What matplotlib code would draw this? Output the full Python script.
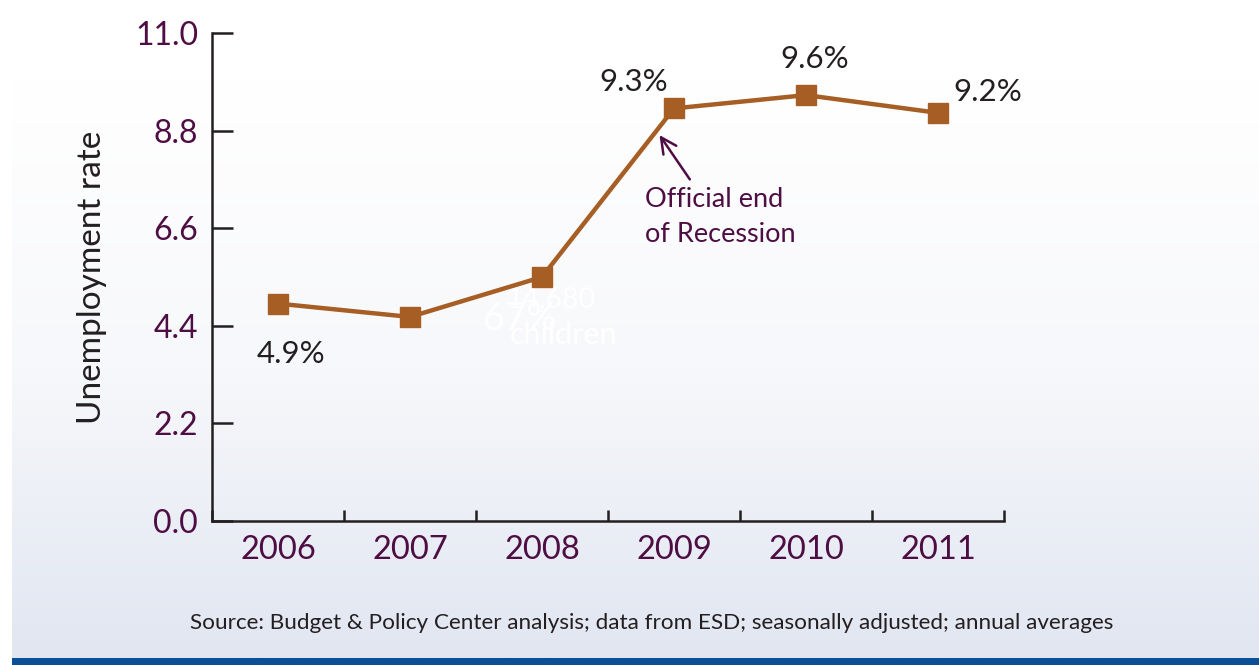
import matplotlib.pyplot as plt
import matplotlib.colors as mcolors
import numpy as np

plt.rcParams['font.family'] = ['Lato', 'DejaVu Sans']

# data
years = ['2006', '2007', '2008', '2009', '2010', '2011']
rates = [4.9, 4.6, 5.5, 9.3, 9.6, 9.2]
yticks = [0.0, 2.2, 4.4, 6.6, 8.8, 11.0]
# labelled points: index -> (text, offset in points)
point_labels = {0: ('4.9%', (9, -36)), 3: ('9.3%', (-29, 19)),
                4: ('9.6%', (6, 26)), 5: ('9.2%', (36, 15))}

LINE = '#a65e24'
PURPLE = '#4e0d43'
DARK = '#231f20'

W, H = 1259, 665
fig = plt.figure(figsize=(W / 100, H / 100), dpi=100)

# background: white -> pale blue-grey gradient, blue strip at bottom
bg = fig.add_axes([12 / W, 7 / H, 1 - 12 / W, 1 - 7 / H], zorder=-10)
grad = np.linspace(0, 1, 300)
grad = np.clip((grad - 0.12) / 0.88, 0, 1)[:, None]
cmap = mcolors.LinearSegmentedColormap.from_list('bg', ['#ffffff', '#f7f8fb', '#e1e6f1'])
bg.imshow(grad, aspect='auto', cmap=cmap, extent=[0, 1, 1, 0])
bg.axis('off')
bar = fig.add_axes([12 / W, 0, 1 - 12 / W, 7 / H], zorder=-9)
bar.set_facecolor('#0b4f97')
bar.set_xticks([]); bar.set_yticks([])
for s in bar.spines.values():
    s.set_visible(False)

ax = fig.add_axes([212 / W, 1 - 521 / H, (1004 - 212) / W, (521 - 33) / H])
ax.patch.set_alpha(0)
x = np.arange(len(years))
ax.plot(x, rates, color=LINE, lw=3.2, marker='s', ms=14, mfc=LINE, mec=LINE, zorder=3)

for i, (txt, off) in point_labels.items():
    ax.annotate(txt, (x[i], rates[i]), xytext=off, textcoords='offset points',
                ha='center', va='center', fontsize=22.5, color=DARK)

ax.set_xlim(-0.5, len(years) - 0.5)
ax.set_ylim(0, 11)
ax.set_yticks(yticks)
ax.set_yticklabels([f'{v:.1f}' for v in yticks])
ax.set_xticks(np.arange(len(years) + 1) - 0.5)
ax.set_xticklabels([])
ax.set_xticks(x, minor=True)
ax.set_xticklabels(years, minor=True)
ax.tick_params(axis='x', which='major', direction='in', length=8, width=1.8, color=DARK)
ax.tick_params(axis='x', which='minor', length=0, pad=10, labelsize=23.5, labelcolor=PURPLE)
ax.tick_params(axis='y', direction='in', length=15, width=1.8, color=DARK, pad=10,
               labelsize=23, labelcolor=PURPLE)
for side in ['top', 'right']:
    ax.spines[side].set_visible(False)
for side in ['left', 'bottom']:
    ax.spines[side].set_linewidth(1.8)
    ax.spines[side].set_color(DARK)

ax.set_ylabel('Unemployment rate', fontsize=24, color=DARK, labelpad=20)

# recession note
ax.annotate('', xy=(2.89, 8.7), xytext=(3.12, 7.7),
            arrowprops=dict(arrowstyle='->', color=PURPLE, lw=1.8, mutation_scale=28,
                            shrinkA=0, shrinkB=0))
ax.text(2.78, 7.52, 'Official end\nof Recession', fontsize=19.5, color=PURPLE,
        ha='left', va='top', linespacing=1.5)

# faint leftover labels in the background artwork
ax.text(2.07, 5.0, '14,680', fontsize=20.5, color='white', ha='center', va='center', zorder=1)
ax.text(1.83, 4.55, '67%', fontsize=27, color='white', ha='center', va='center', zorder=1)
ax.text(2.16, 4.2, 'children', fontsize=22, color='white', ha='center', va='center', zorder=1)

fig.text(652 / W, 1 - 623 / H,
         'Source: Budget & Policy Center analysis; data from ESD; seasonally adjusted; annual averages',
         fontsize=16.2, color=DARK, ha='center', va='center')

fig.savefig('out.png', dpi=100)
